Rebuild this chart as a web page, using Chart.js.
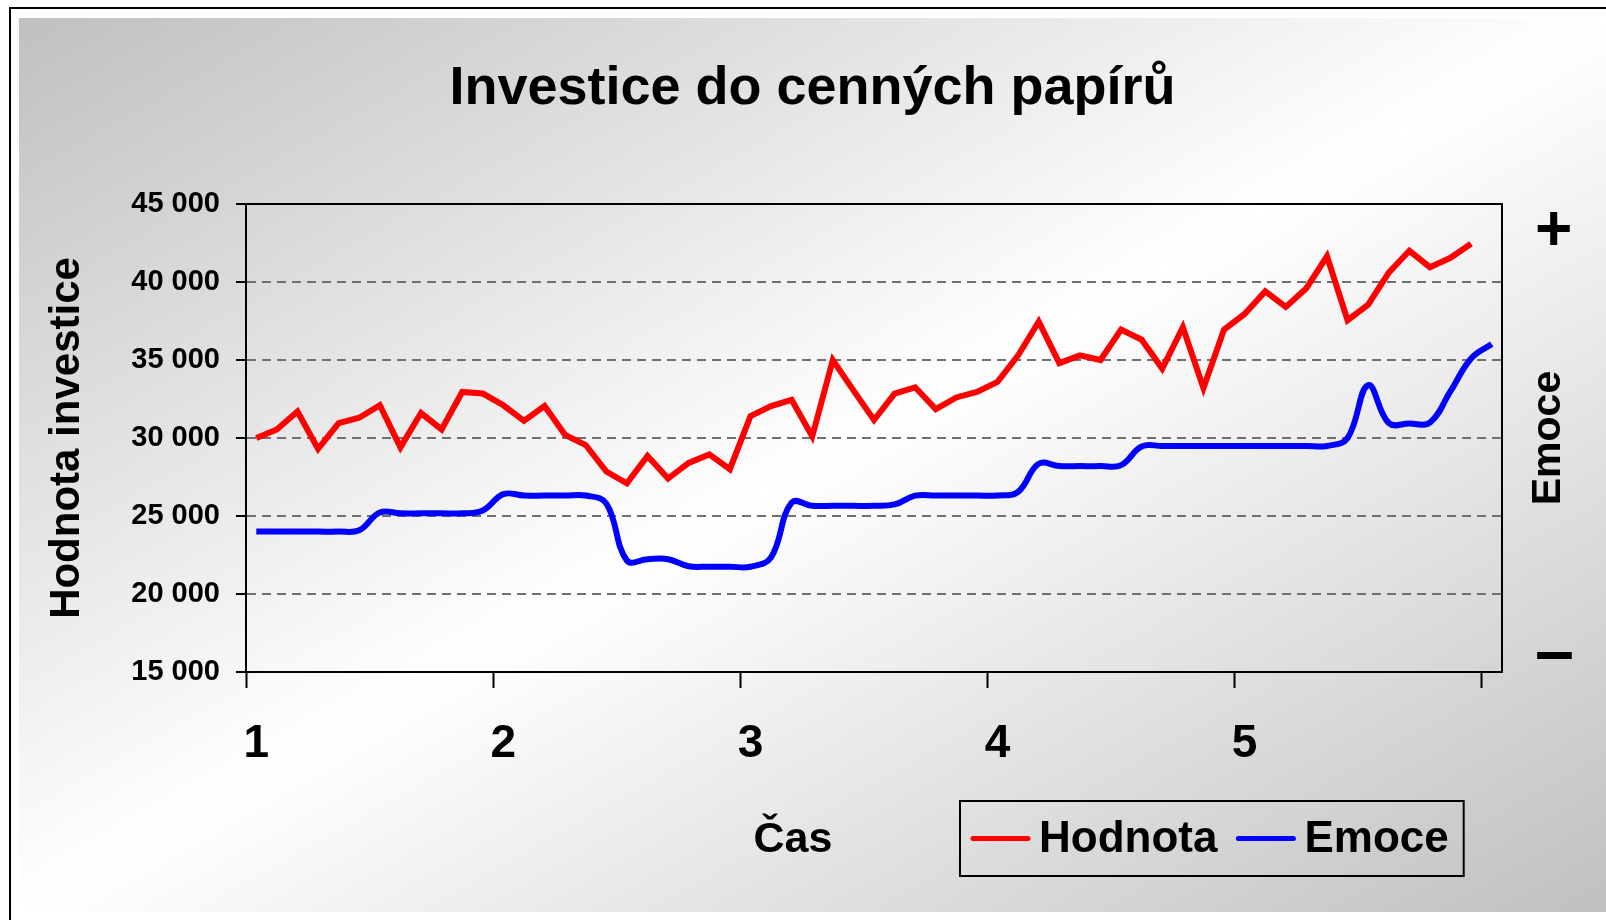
<!DOCTYPE html>
<html>
<head>
<meta charset="utf-8">
<script src="https://cdn.jsdelivr.net/npm/chart.js@4.4.1/dist/chart.umd.min.js"></script>
<style>
  html, body { margin: 0; padding: 0; background: #fff; width: 1606px; height: 920px; overflow: hidden; }
  .frame { position: absolute; left: 9px; top: 7px; width: 1700px; height: 1000px; border: 2px solid #000; }
  .chart-box {
    position: absolute; left: 19px; top: 18px; width: 1587px; height: 894px;
    background: linear-gradient(to bottom right, #c0c0c0 0%, #ffffff 50%, #c0c0c0 100%);
  }
</style>
</head>
<body>
<div class="frame"></div>
<div class="chart-box"><canvas id="chart" width="1587" height="894"></canvas></div>
<script>
const FONT = '"Liberation Sans", Arial, sans-serif';

const chartTitle = 'Investice do cenných papírů';
const yearLabels = ['1', '2', '3', '4', '5'];
const monthsPerYear = 12;
const monthCount = 61;

// hodnota investice, one value per month
const hodnota = [
  30000, 30550, 31700, 29300, 30950, 31300, 32100, 29400, 31600, 30550, 32950, 32850,
  32100, 31100, 32050, 30200, 29550, 27850, 27100, 28850, 27400, 28400, 28950, 28000,
  31400, 32050, 32450, 30100, 35000, 33050, 31150, 32850, 33250, 31850, 32600, 32950,
  33600, 35300, 37450, 34800, 35300, 35000, 36950, 36300, 34450, 37100, 33200, 36950,
  37950, 39400, 38400, 39600, 41650, 37550, 38550, 40600, 42000, 40950, 41550, 42450
];

// emoce on a 0 (−) .. 100 (+) scale, one value per month
const emoce = [
  30, 30, 30, 30, 30, 30.3, 34.1, 33.9, 33.9, 33.9, 33.9, 34.5,
  38, 37.7, 37.7, 37.7, 37.7, 36, 23.8, 24.1, 24.1, 22.6, 22.5, 22.5,
  22.5, 24.5, 36.2, 35.5, 35.5, 35.5, 35.5, 35.8, 37.7, 37.7, 37.7, 37.7,
  37.7, 38.5, 44.5, 44, 44, 44, 44.2, 48.2, 48.3, 48.3, 48.3, 48.3,
  48.3, 48.3, 48.3, 48.3, 48.3, 50, 61.3, 53.2, 53.1, 53.3, 60, 67,
  70.1
];

const hodnotaMin = 15000;
const hodnotaMax = 45000;
const hodnotaStep = 5000;
const emoceTickValues = [3.8, 94];
const emoceTickLabels = ['\u2013', '+'];

const monthLabels = Array.from({ length: monthCount }, (_, i) =>
  i % monthsPerYear === 0 ? (yearLabels[i / monthsPerYear] || '') : '');

const fmt = v => String(v).replace(/\B(?=(\d{3})+$)/g, ' ');

// extra texts the reference places freely: Čas, Emoce, the framed legend
const extras = {
  id: 'extras',
  afterDraw(chart) {
    const { ctx, chartArea: a } = chart;
    ctx.save();
    ctx.strokeStyle = '#000';
    ctx.lineWidth = 2;
    ctx.beginPath();
    ctx.moveTo(a.left - 1, a.top);
    ctx.lineTo(a.right + 1, a.top);
    ctx.stroke();

    ctx.fillStyle = '#000';
    ctx.font = `bold 43px ${FONT}`;
    ctx.textAlign = 'center';
    ctx.textBaseline = 'alphabetic';
    ctx.fillText('Čas', 774, 834);

    ctx.save();
    ctx.font = `bold 41px ${FONT}`;
    ctx.translate(a.right + 47, (a.top + a.bottom) / 2);
    ctx.rotate(-Math.PI / 2);
    ctx.textBaseline = 'middle';
    ctx.fillText('Emoce', 0, 0);
    ctx.restore();

    // legend
    const boxX = 941, boxY = 783, boxH = 75;
    const cy = boxY + boxH / 2;
    ctx.font = `bold 44px ${FONT}`;
    ctx.textAlign = 'left';
    ctx.textBaseline = 'middle';
    let x = boxX + 13;
    chart.data.datasets.forEach((ds, i) => {
      if (i > 0) x += 21;
      ctx.strokeStyle = ds.borderColor;
      ctx.lineWidth = 5;
      ctx.lineCap = 'round';
      ctx.beginPath();
      ctx.moveTo(x, cy);
      ctx.lineTo(x + 55, cy);
      ctx.stroke();
      x += 66;
      ctx.fillText(ds.label, x, cy + 1);
      x += ctx.measureText(ds.label).width;
    });
    ctx.lineCap = 'butt';
    ctx.strokeStyle = '#000';
    ctx.lineWidth = 2;
    ctx.strokeRect(boxX, boxY, x + 15 - boxX, boxH);
    ctx.restore();
  }
};

new Chart(document.getElementById('chart'), {
  type: 'line',
  data: {
    labels: monthLabels,
    datasets: [{
      label: 'Hodnota',
      data: hodnota,
      borderColor: '#ff0000',
      borderWidth: 6,
      pointRadius: 0,
      tension: 0,
      yAxisID: 'y'
    }, {
      label: 'Emoce',
      data: emoce,
      borderColor: '#0000ff',
      borderWidth: 6,
      pointRadius: 0,
      tension: 0.4,
      yAxisID: 'y2'
    }]
  },
  options: {
    responsive: false,
    animation: false,
    devicePixelRatio: 1,
    layout: { padding: 0 },
    plugins: {
      legend: { display: false },
      tooltip: { enabled: false },
      title: {
        display: true,
        text: chartTitle,
        color: '#000',
        font: { family: FONT, size: 54, weight: 'bold' },
        padding: { top: 39, bottom: 82.2 }
      }
    },
    scales: {
      x: {
        type: 'category',
        offset: true,
        afterFit: s => { s.height = 240; },
        grid: {
          offset: true,
          drawOnChartArea: false,
          tickLength: 16,
          tickWidth: 2,
          tickColor: c => c.index % monthsPerYear === 0 ? '#000' : 'transparent'
        },
        border: { display: true, color: '#000', width: 2 },
        ticks: {
          autoSkip: false,
          maxRotation: 0,
          minRotation: 0,
          padding: 29,
          color: '#000',
          font: { family: FONT, size: 46, weight: 'bold' }
        }
      },
      y: {
        position: 'left',
        min: hodnotaMin,
        max: hodnotaMax,
        afterFit: s => { s.width = 227; },
        grid: {
          color: c => (c.tick && (c.tick.value === hodnotaMin || c.tick.value === hodnotaMax)) ? 'transparent' : '#707070',
          lineWidth: 2,
          tickLength: 10,
          tickWidth: 2,
          tickColor: '#000',
          tickBorderDash: []
        },
        border: { display: true, color: '#000', width: 2, dash: [9, 6] },
        ticks: {
          stepSize: hodnotaStep,
          padding: 16,
          color: '#000',
          font: { family: FONT, size: 29, weight: 'bold' },
          callback: v => fmt(v)
        },
        title: {
          display: true,
          text: 'Hodnota investice',
          color: '#000',
          font: { family: FONT, size: 42, weight: 'bold' },
          padding: { top: 23, bottom: 0 }
        }
      },
      y2: {
        position: 'right',
        min: 0,
        max: 100,
        afterFit: s => { s.width = 104; },
        afterBuildTicks: s => { s.ticks = emoceTickValues.map(v => ({ value: v })); },
        grid: { drawOnChartArea: false, drawTicks: false },
        border: { display: true, color: '#000', width: 2 },
        ticks: {
          padding: 33,
          color: '#000',
          font: c => ({ family: FONT, size: c.index === 0 ? 70 : 64, weight: 'bold' }),
          callback: (v, i) => emoceTickLabels[i]
        }
      }
    }
  },
  plugins: [extras]
});
</script>
</body>
</html>
